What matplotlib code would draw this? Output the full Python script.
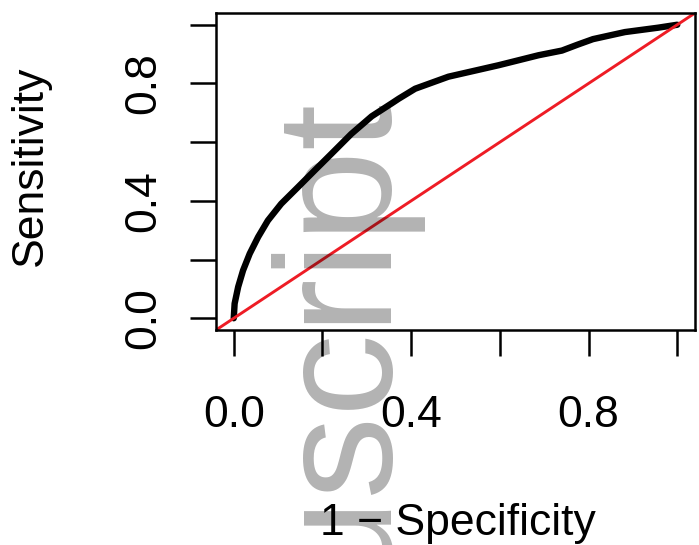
import numpy as np
import matplotlib.pyplot as plt

plt.rcParams['font.family'] = ['Liberation Sans', 'DejaVu Sans']

# ROC curve
fpr = [0.0, 0.002, 0.010, 0.021, 0.036, 0.055, 0.077, 0.107, 0.145, 0.182,
       0.220, 0.265, 0.311, 0.357, 0.372, 0.409, 0.484, 0.597, 0.687, 0.740,
       0.775, 0.810, 0.882, 0.957, 1.0]
tpr = [0.0, 0.050, 0.107, 0.163, 0.220, 0.277, 0.333, 0.390, 0.447, 0.503,
       0.560, 0.628, 0.688, 0.733, 0.748, 0.782, 0.823, 0.862, 0.896, 0.912,
       0.932, 0.951, 0.975, 0.990, 1.0]

ticks = [0.0, 0.2, 0.4, 0.6, 0.8, 1.0]
tick_labels = ["0.0", "", "0.4", "", "0.8", ""]

W, H = 699, 545
fig = plt.figure(figsize=(W / 100, H / 100), dpi=100)
ax = fig.add_axes([216 / W, 1 - 330 / H, (695 - 216) / W, (330 - 13) / H])

ax.plot(fpr, tpr, color="black", lw=4.6, solid_capstyle="round",
        solid_joinstyle="round")
ax.axline((0, 0), (1, 1), color="#ee1c25", lw=2.1)

ax.set_xlim(-0.04, 1.04)
ax.set_ylim(-0.04, 1.04)
ax.set_xticks(ticks)
ax.set_xticklabels(tick_labels)
ax.set_yticks(ticks)
ax.set_yticklabels(tick_labels, rotation=90, va="center")

for s in ax.spines.values():
    s.set_linewidth(1.8)
ax.tick_params(axis="both", direction="out", length=18.5, width=1.8,
               labelsize=32)
ax.tick_params(axis="x", pad=28)
ax.tick_params(axis="y", pad=19)

fig.text(42 / W, 1 - 166 / H, "Sensitivity", rotation=90,
         rotation_mode="anchor", ha="center", va="baseline", fontsize=32)
fig.text(458 / W, 1 - 535 / H, "1 \u2212 Specificity", ha="center",
         va="baseline", fontsize=32)

# watermark
fig.text(378 / W, 1 - 90 / H, "Manuscript", rotation=90,
         rotation_mode="anchor", ha="right", va="baseline", fontsize=119,
         color="black", alpha=0.3, zorder=10)

fig.savefig("out.png", dpi=100)
